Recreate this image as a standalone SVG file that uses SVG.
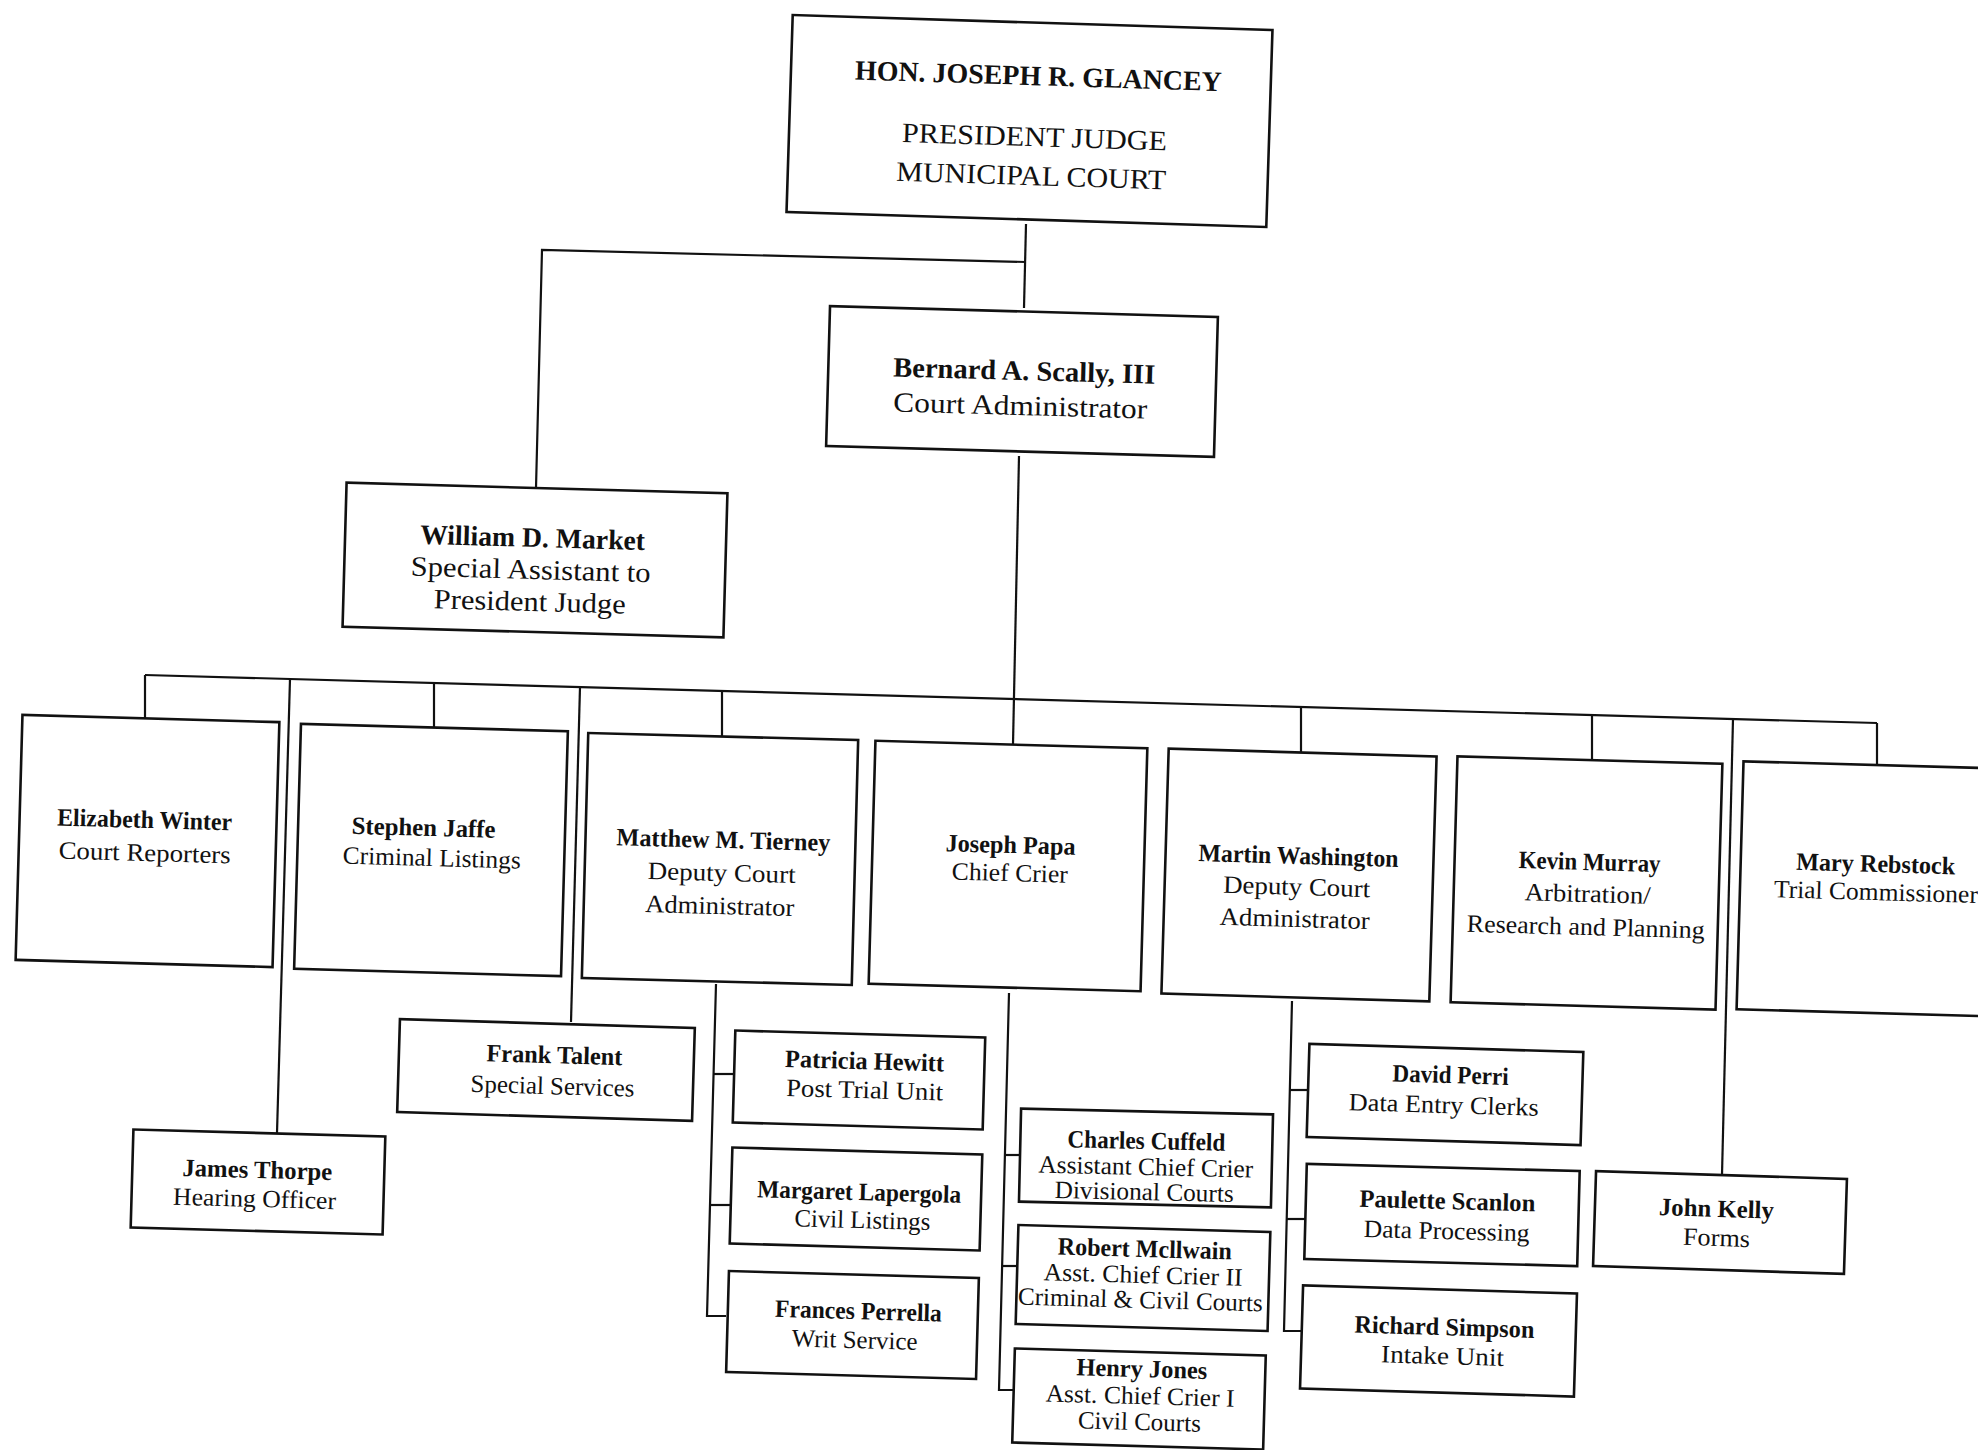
<svg xmlns="http://www.w3.org/2000/svg" width="1978" height="1450" viewBox="0 0 1978 1450">
<style>
rect.box{fill:#fff;stroke:#111;stroke-width:2.6}
.c{fill:none;stroke:#111;stroke-width:2.2;stroke-linejoin:miter}
text{font-family:"Liberation Serif","Times New Roman",serif;fill:#111;text-anchor:middle}
.b{font-weight:bold}
.s25{font-size:25px}
.s28{font-size:28px}
</style>
<rect width="1978" height="1450" fill="#fff"/>
<g id="connectors">
<polyline class="c" points="1026,224 1024,308"/>
<polyline class="c" points="1026,262 542,250 536,488"/>
<polyline class="c" points="1019,456 1013,744"/>
<polyline class="c" points="145,675 1877,723"/>
<polyline class="c" points="145,675 145,718"/>
<polyline class="c" points="290,679 277,1133"/>
<polyline class="c" points="434,683 434,727"/>
<polyline class="c" points="580,687 571,1022"/>
<polyline class="c" points="722,691 722,736"/>
<polyline class="c" points="1301,707 1301,752"/>
<polyline class="c" points="1592,715 1592,760"/>
<polyline class="c" points="1733,719 1722,1175"/>
<polyline class="c" points="1877,723 1877,767"/>
<polyline class="c" points="716,984 707,1316 726,1316"/>
<polyline class="c" points="714,1074 733,1074"/>
<polyline class="c" points="711,1205 730,1205"/>
<polyline class="c" points="1009,993 999,1390 1013,1390"/>
<polyline class="c" points="1005,1155 1021,1155"/>
<polyline class="c" points="1002,1266 1017,1266"/>
<polyline class="c" points="1292,1001 1284,1331 1302,1331"/>
<polyline class="c" points="1290,1090 1309,1090"/>
<polyline class="c" points="1287,1219 1305,1219"/>
</g>
<g id="n-glancey" transform="rotate(1.8 1029.5 121)">
<rect class="box" x="789.5" y="22.5" width="480" height="197"/>
<text class="b s28" x="1037" y="85" textLength="367" lengthAdjust="spacingAndGlyphs">HON. JOSEPH R. GLANCEY</text>
<text class="s28" x="1035" y="146" textLength="265" lengthAdjust="spacingAndGlyphs">PRESIDENT JUDGE</text>
<text class="s28" x="1033" y="185" textLength="270" lengthAdjust="spacingAndGlyphs">MUNICIPAL COURT</text>
</g>
<g id="n-scally" transform="rotate(1.6 1022 381.5)">
<rect class="box" x="828" y="311.5" width="388" height="140"/>
<text class="b s28" x="1024" y="380" textLength="262" lengthAdjust="spacingAndGlyphs">Bernard A. Scally, III</text>
<text class="s28" x="1021" y="415" textLength="254" lengthAdjust="spacingAndGlyphs">Court Administrator</text>
</g>
<g id="n-market" transform="rotate(1.6 535 560)">
<rect class="box" x="344.5" y="488" width="381" height="144"/>
<text class="b s28" x="532" y="547" textLength="225" lengthAdjust="spacingAndGlyphs">William D. Market</text>
<text class="s28" x="531" y="579" textLength="240" lengthAdjust="spacingAndGlyphs">Special Assistant to</text>
<text class="s28" x="531" y="611" textLength="192" lengthAdjust="spacingAndGlyphs">President Judge</text>
</g>
<g id="n-winter" transform="rotate(1.6 147.5 841)">
<rect class="box" x="19" y="718.5" width="257" height="245"/>
<text class="b s25" x="144" y="828" textLength="175" lengthAdjust="spacingAndGlyphs">Elizabeth Winter</text>
<text class="s25" x="145" y="861" textLength="172" lengthAdjust="spacingAndGlyphs">Court Reporters</text>
</g>
<g id="n-jaffe" transform="rotate(1.6 431 850)">
<rect class="box" x="297.5" y="727.5" width="267" height="245"/>
<text class="b s25" x="423" y="836" textLength="144" lengthAdjust="spacingAndGlyphs">Stephen Jaffe</text>
<text class="s25" x="432" y="866" textLength="178" lengthAdjust="spacingAndGlyphs">Criminal Listings</text>
</g>
<g id="n-tierney" transform="rotate(1.5 720 859)">
<rect class="box" x="585" y="736.5" width="270" height="245"/>
<text class="b s25" x="723" y="848" textLength="214" lengthAdjust="spacingAndGlyphs">Matthew M. Tierney</text>
<text class="s25" x="722" y="881" textLength="148" lengthAdjust="spacingAndGlyphs">Deputy Court</text>
<text class="s25" x="721" y="914" textLength="149" lengthAdjust="spacingAndGlyphs">Administrator</text>
</g>
<g id="n-papa" transform="rotate(1.6 1008 866)">
<rect class="box" x="872" y="744.5" width="272" height="243"/>
<text class="b s25" x="1010" y="853" textLength="130" lengthAdjust="spacingAndGlyphs">Joseph Papa</text>
<text class="s25" x="1010" y="881" textLength="116" lengthAdjust="spacingAndGlyphs">Chief Crier</text>
</g>
<g id="n-washington" transform="rotate(1.7 1299 875)">
<rect class="box" x="1165" y="752.5" width="268" height="245"/>
<text class="b s25" x="1298" y="864" textLength="200" lengthAdjust="spacingAndGlyphs">Martin Washington</text>
<text class="s25" x="1297" y="895" textLength="147" lengthAdjust="spacingAndGlyphs">Deputy Court</text>
<text class="s25" x="1296" y="927" textLength="150" lengthAdjust="spacingAndGlyphs">Administrator</text>
</g>
<g id="n-murray" transform="rotate(1.6 1586.5 883)">
<rect class="box" x="1454" y="760" width="265" height="246"/>
<text class="b s25" x="1589" y="870" textLength="142" lengthAdjust="spacingAndGlyphs">Kevin Murray</text>
<text class="s25" x="1588" y="902" textLength="126" lengthAdjust="spacingAndGlyphs">Arbitration/</text>
<text class="s25" x="1587" y="935" textLength="238" lengthAdjust="spacingAndGlyphs">Research and Planning</text>
</g>
<g id="n-rebstock" transform="rotate(1.6 1873 889)">
<rect class="box" x="1740" y="765" width="266" height="248"/>
<text class="b s25" x="1875" y="872" textLength="159" lengthAdjust="spacingAndGlyphs">Mary Rebstock</text>
<text class="s25" x="1876" y="900" textLength="204" lengthAdjust="spacingAndGlyphs">Trial Commissioner</text>
</g>
<g id="n-thorpe" transform="rotate(1.6 258 1182)">
<rect class="box" x="132" y="1133" width="252" height="98"/>
<text class="b s25" x="257" y="1178" textLength="150" lengthAdjust="spacingAndGlyphs">James Thorpe</text>
<text class="s25" x="255" y="1207" textLength="163" lengthAdjust="spacingAndGlyphs">Hearing Officer</text>
</g>
<g id="n-talent" transform="rotate(1.7 546 1070)">
<rect class="box" x="398.5" y="1023.5" width="295" height="93"/>
<text class="b s25" x="554" y="1063" textLength="136" lengthAdjust="spacingAndGlyphs">Frank Talent</text>
<text class="s25" x="553" y="1094" textLength="164" lengthAdjust="spacingAndGlyphs">Special Services</text>
</g>
<g id="n-hewitt" transform="rotate(1.6 859 1080)">
<rect class="box" x="734" y="1034" width="250" height="92"/>
<text class="b s25" x="864" y="1069" textLength="159" lengthAdjust="spacingAndGlyphs">Patricia Hewitt</text>
<text class="s25" x="865" y="1098" textLength="157" lengthAdjust="spacingAndGlyphs">Post Trial Unit</text>
</g>
<g id="n-lapergola" transform="rotate(1.6 856 1199)">
<rect class="box" x="731" y="1151" width="250" height="96"/>
<text class="b s25" x="859" y="1200" textLength="204" lengthAdjust="spacingAndGlyphs">Margaret Lapergola</text>
<text class="s25" x="863" y="1228" textLength="136" lengthAdjust="spacingAndGlyphs">Civil Listings</text>
</g>
<g id="n-perrella" transform="rotate(1.6 852.5 1325)">
<rect class="box" x="727.5" y="1274.5" width="250" height="101"/>
<text class="b s25" x="858" y="1319" textLength="167" lengthAdjust="spacingAndGlyphs">Frances Perrella</text>
<text class="s25" x="855" y="1348" textLength="126" lengthAdjust="spacingAndGlyphs">Writ Service</text>
</g>
<g id="n-cuffeld" transform="rotate(1.3 1146 1158)">
<rect class="box" x="1020" y="1111.5" width="252" height="93"/>
<text class="b s25" x="1146" y="1149" textLength="158" lengthAdjust="spacingAndGlyphs">Charles Cuffeld</text>
<text class="s25" x="1146" y="1175" textLength="215" lengthAdjust="spacingAndGlyphs">Assistant Chief Crier</text>
<text class="s25" x="1145" y="1200" textLength="179" lengthAdjust="spacingAndGlyphs">Divisional Courts</text>
</g>
<g id="n-mcilwain" transform="rotate(1.6 1143 1278)">
<rect class="box" x="1017" y="1228.5" width="252" height="99"/>
<text class="b s25" x="1144" y="1257" textLength="174" lengthAdjust="spacingAndGlyphs">Robert Mcllwain</text>
<text class="s25" x="1143" y="1283" textLength="199" lengthAdjust="spacingAndGlyphs">Asst. Chief Crier II</text>
<text class="s25" x="1141" y="1308" textLength="245" lengthAdjust="spacingAndGlyphs">Criminal &amp; Civil Courts</text>
</g>
<g id="n-jones" transform="rotate(1.6 1139 1399)">
<rect class="box" x="1013.5" y="1352" width="251" height="94"/>
<text class="b s25" x="1141" y="1377" textLength="131" lengthAdjust="spacingAndGlyphs">Henry Jones</text>
<text class="s25" x="1140" y="1404" textLength="189" lengthAdjust="spacingAndGlyphs">Asst. Chief Crier I</text>
<text class="s25" x="1140" y="1430" textLength="123" lengthAdjust="spacingAndGlyphs">Civil Courts</text>
</g>
<g id="n-perri" transform="rotate(1.7 1445 1094.5)">
<rect class="box" x="1308" y="1048" width="274" height="93"/>
<text class="b s25" x="1450" y="1083" textLength="116" lengthAdjust="spacingAndGlyphs">David Perri</text>
<text class="s25" x="1444" y="1113" textLength="190" lengthAdjust="spacingAndGlyphs">Data Entry Clerks</text>
</g>
<g id="n-scanlon" transform="rotate(1.5 1442 1215)">
<rect class="box" x="1305.5" y="1167.5" width="273" height="95"/>
<text class="b s25" x="1447" y="1209" textLength="176" lengthAdjust="spacingAndGlyphs">Paulette Scanlon</text>
<text class="s25" x="1447" y="1239" textLength="166" lengthAdjust="spacingAndGlyphs">Data Processing</text>
</g>
<g id="n-simpson" transform="rotate(1.7 1438.5 1341)">
<rect class="box" x="1301.5" y="1289.5" width="274" height="103"/>
<text class="b s25" x="1444" y="1335" textLength="180" lengthAdjust="spacingAndGlyphs">Richard Simpson</text>
<text class="s25" x="1443" y="1364" textLength="123" lengthAdjust="spacingAndGlyphs">Intake Unit</text>
</g>
<g id="n-kelly" transform="rotate(1.8 1720 1222.5)">
<rect class="box" x="1594.5" y="1175" width="251" height="95"/>
<text class="b s25" x="1716" y="1217" textLength="115" lengthAdjust="spacingAndGlyphs">John Kelly</text>
<text class="s25" x="1717" y="1246" textLength="67" lengthAdjust="spacingAndGlyphs">Forms</text>
</g>
</svg>
